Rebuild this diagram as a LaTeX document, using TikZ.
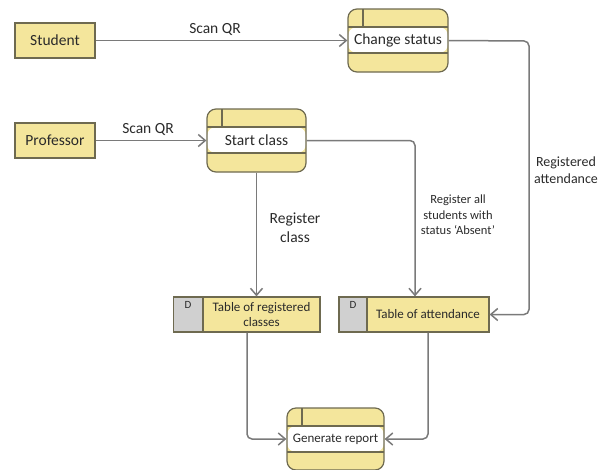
\documentclass[tikz,border=0pt]{standalone}
\usepackage{fontspec}
\setmainfont{Carlito}
\usetikzlibrary{arrows.meta,calc}
\definecolor{yfill}{HTML}{F4E69C}
\definecolor{bline}{HTML}{6E6A50}
\definecolor{cline}{HTML}{7A7A7A}
\definecolor{dgray}{HTML}{D0D0D0}
\definecolor{txt}{HTML}{2A2A2A}
\tikzset{
  entity/.style={draw=bline, fill=yfill, line width=1.2pt, minimum width=80pt, minimum height=35pt, inner sep=0pt, text=txt, font=\fontsize{15.5}{17}\selectfont},
  proc/.style={draw=bline, fill=yfill, line width=1.2pt, rounded corners=9pt, inner sep=0pt, text=txt,
    path picture={
      \fill[white] ([yshift=-18pt]path picture bounding box.north west) rectangle ([yshift=-44pt]path picture bounding box.north east);
      \draw[bline, line width=1.2pt] ([yshift=-18pt]path picture bounding box.north west) -- ([yshift=-18pt]path picture bounding box.north east);
      \draw[bline, line width=1.2pt] ([yshift=-44pt]path picture bounding box.north west) -- ([yshift=-44pt]path picture bounding box.north east);
      \draw[bline, line width=1.2pt] ([xshift=15pt]path picture bounding box.north west) -- ([xshift=15pt,yshift=-18pt]path picture bounding box.north west);
    }},
  storeD/.style={draw=bline, fill=dgray, line width=1.2pt, minimum width=29pt, minimum height=35pt, inner sep=0pt},
  store/.style={draw=bline, fill=yfill, line width=1.2pt, minimum height=35pt, inner sep=0pt, text=txt, align=center, font=\fontsize{13}{15}\selectfont},
  flow/.style={draw=cline, line width=1.5pt, rounded corners=5pt, -{Straight Barb[length=7pt,width=12pt]}},
  lbl/.style={text=txt, align=center, inner sep=0pt},
}
\begin{document}
\begin{tikzpicture}[x=1pt,y=-1pt]
\useasboundingbox (0,0) rectangle (599,469);
% external entities
\node[entity] (stu) at (55,40.5) {Student};
\node[entity] (prof) at (55,140.5) {Professor};
% processes
\node[proc, minimum width=100pt, minimum height=63pt, font=\fontsize{15.5}{17}\selectfont] (cs) at (398,40.5) {Change status};
\node[proc, minimum width=99pt, minimum height=63pt, font=\fontsize{15.5}{17}\selectfont] (sc) at (256.5,140.5) {Start class};
\node[proc, minimum width=97pt, minimum height=62pt, font=\fontsize{13}{15}\selectfont] (gr) at (335.5,439) {Generate report};
% data stores
\node[storeD] (trcd) at (188,314.5) {};
\node[font=\fontsize{11}{12}\selectfont, text=txt, anchor=north] (trcdl) at ([yshift=-2pt]trcd.north) {D};
\node[store, minimum width=117pt] (trc) at (261.5,314.5) {Table of registered\\classes};
\node[storeD, minimum width=28pt] (tad) at (353,314.5) {};
\node[font=\fontsize{11}{12}\selectfont, text=txt, anchor=north] (tadl) at ([yshift=-2pt]tad.north) {D};
\node[store, minimum width=122pt] (ta) at (428,314.5) {Table of attendance};
% flows
\draw[flow] (stu.east) -- (cs.west);
\node[lbl, font=\fontsize{15.5}{17}\selectfont] (l1) at (215,29) {Scan QR};
\draw[flow] (prof.east) -- (sc.west);
\node[lbl, font=\fontsize{15.5}{17}\selectfont] (l2) at (148,129) {Scan QR};
\coordinate (k1) at (529,41);
\draw[flow] (cs.east) -- (k1) |- (ta.east);
\node[lbl, font=\fontsize{14}{16.5}\selectfont] (l3) at (566,170) {Registered\\attendance};
\draw[flow] (sc.east) -| ([xshift=-13pt]ta.north);
\node[lbl, font=\fontsize{12.5}{15.5}\selectfont] (l4) at (458,215) {Register all\\students with\\status ‘Absent’};
\draw[flow] (sc.south) -- (sc.south |- trc.north);
\node[lbl, font=\fontsize{15.5}{19}\selectfont] (l5) at (295,228) {Register\\class};
\draw[flow] ([xshift=-14.5pt]trc.south) |- (gr.west);
\draw[flow] (ta.south) |- (gr.east);
\end{tikzpicture}
\end{document}
